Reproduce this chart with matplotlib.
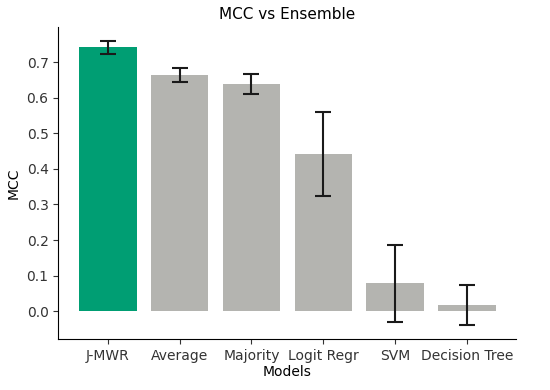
import matplotlib
matplotlib.use("Agg")
import matplotlib.pyplot as plt

# data
models = ["J-MWR", "Average", "Majority", "Logit Regr", "SVM", "Decision Tree"]
mcc = [0.742, 0.665, 0.640, 0.442, 0.078, 0.018]
mcc_err = [0.018, 0.020, 0.028, 0.119, 0.109, 0.0565]
bar_colors = ["#009e73", "#b4b4b0", "#b4b4b0", "#b4b4b0", "#b4b4b0", "#b4b4b0"]

fig, ax = plt.subplots(figsize=(5.5, 3.9), dpi=100)
fig.subplots_adjust(left=0.106, right=0.939, bottom=0.131, top=0.931)

ax.bar(models, mcc, width=0.8, color=bar_colors, yerr=mcc_err,
       error_kw=dict(ecolor="#1a1a1a", elinewidth=1.5, capsize=6, capthick=1.5))

ax.set_title("MCC vs Ensemble", fontsize=11)
ax.set_xlabel("Models", fontsize=10, labelpad=2)
ax.set_ylabel("MCC", fontsize=10)
ax.tick_params(labelsize=10, colors="#333333")
ax.set_yticks([0.0, 0.1, 0.2, 0.3, 0.4, 0.5, 0.6, 0.7])

# only left and bottom spines
ax.spines["top"].set_visible(False)
ax.spines["right"].set_visible(False)

plt.savefig("out.png")
